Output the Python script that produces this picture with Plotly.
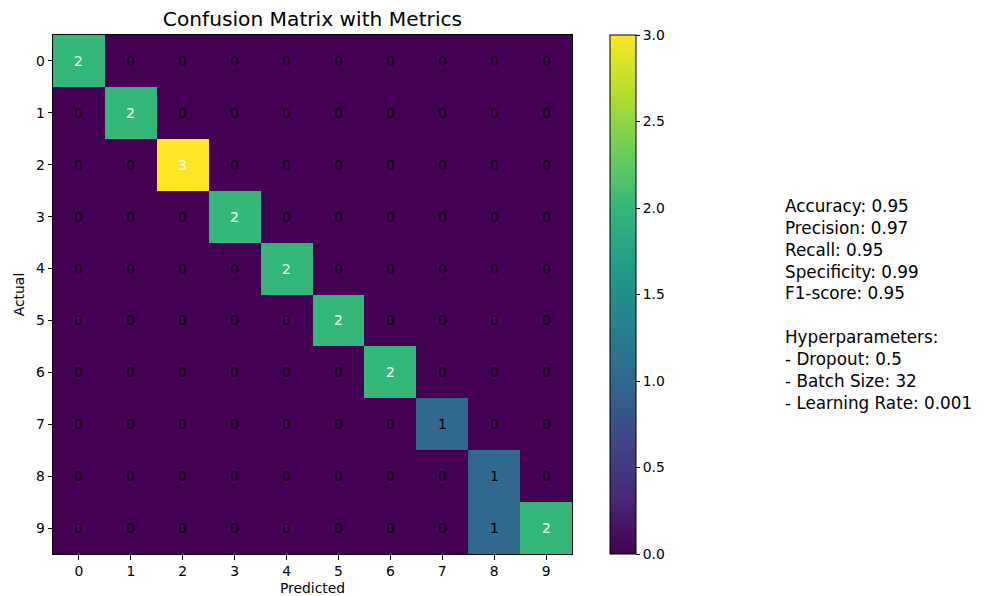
import plotly.graph_objects as go

classes = list(range(10))
cm = [
    [2, 0, 0, 0, 0, 0, 0, 0, 0, 0],
    [0, 2, 0, 0, 0, 0, 0, 0, 0, 0],
    [0, 0, 3, 0, 0, 0, 0, 0, 0, 0],
    [0, 0, 0, 2, 0, 0, 0, 0, 0, 0],
    [0, 0, 0, 0, 2, 0, 0, 0, 0, 0],
    [0, 0, 0, 0, 0, 2, 0, 0, 0, 0],
    [0, 0, 0, 0, 0, 0, 2, 0, 0, 0],
    [0, 0, 0, 0, 0, 0, 0, 1, 0, 0],
    [0, 0, 0, 0, 0, 0, 0, 0, 1, 0],
    [0, 0, 0, 0, 0, 0, 0, 0, 1, 2],
]
metric_names = ["Accuracy", "Precision", "Recall", "Specificity", "F1-score"]
metric_values = [0.95, 0.97, 0.95, 0.99, 0.95]
hyper_names = ["Dropout", "Batch Size", "Learning Rate"]
hyper_values = ["0.5", "32", "0.001"]
cbar_ticks = [0.0, 0.5, 1.0, 1.5, 2.0, 2.5, 3.0]

FONT = "DejaVu Sans"
vmax = max(max(r) for r in cm)
thresh = vmax / 2

fig = go.Figure()
fig.add_trace(go.Heatmap(
    z=cm, x=classes, y=classes,
    colorscale="Viridis", zmin=0, zmax=vmax,
    showscale=True,
    colorbar=dict(
        x=1.0732, xanchor="left", xref="paper",
        y=0.5, yanchor="middle", len=1.0, lenmode="fraction", ypad=0, xpad=0,
        thickness=26, thicknessmode="pixels",
        outlinewidth=1, outlinecolor="black",
        tickmode="array", tickvals=cbar_ticks,
        ticktext=[f"{v:.1f}" for v in cbar_ticks],
        ticks="outside", ticklen=4, tickcolor="black",
        tickfont=dict(family=FONT, size=13.9, color="black"),
    ),
    hoverinfo="skip",
))

for i, row in enumerate(cm):
    for j, v in enumerate(row):
        fig.add_annotation(
            x=j, y=i, text=str(v), showarrow=False,
            font=dict(family=FONT, size=13.9, color="white" if v > thresh else "black"),
        )

lines = [f"{n}: {v:.2f}" for n, v in zip(metric_names, metric_values)]
lines += ["", "Hyperparameters:"]
lines += [f"- {n}: {v}" for n, v in zip(hyper_names, hyper_values)]
fig.add_annotation(
    xref="paper", yref="paper", x=1.4065, y=0.4800,
    xanchor="left", yanchor="middle", align="left",
    text="<br>".join(lines), showarrow=False,
    font=dict(family=FONT, size=16.8, color="black"),
)

axis_common = dict(
    showline=True, linecolor="black", linewidth=1, mirror=True,
    ticks="outside", ticklen=4.5, tickcolor="black",
    tickfont=dict(family=FONT, size=13.9, color="black"),
    showgrid=False, zeroline=False, automargin=False,
    tickmode="array", tickvals=classes, ticktext=[str(c) for c in classes],
)

fig.update_layout(
    width=986, height=596,
    margin=dict(l=53, r=414, t=35, b=42, autoexpand=False),
    paper_bgcolor="white", plot_bgcolor="white",
    title=dict(text="Confusion Matrix with Metrics", x=0.3169, xanchor="center",
               y=0.968, yanchor="middle",
               font=dict(family=FONT, size=20.2, color="black")),
    xaxis=dict(title=dict(text="Predicted", font=dict(family=FONT, size=13.9, color="black"), standoff=6),
               range=[-0.5, 9.5], **axis_common),
    yaxis=dict(title=dict(text="Actual", font=dict(family=FONT, size=13.9, color="black"), standoff=8),
               range=[9.5, -0.5], **axis_common),
    font=dict(family=FONT),
)

fig.write_html("out.html", config={"displayModeBar": False},
               post_script="document.body.style.margin='0';document.body.style.overflow='hidden';")
